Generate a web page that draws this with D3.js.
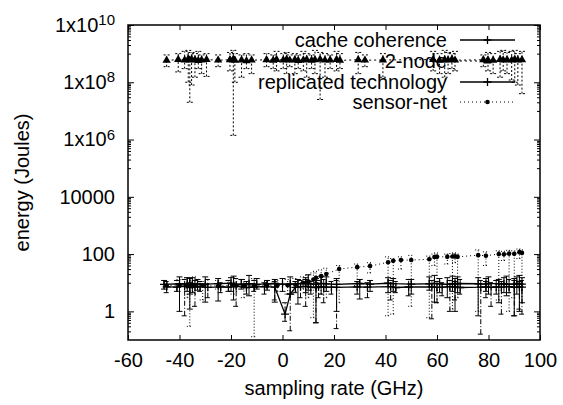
<!DOCTYPE html>
<html>
<head>
<meta charset="utf-8">
<script src="https://cdn.jsdelivr.net/npm/d3@7"></script>
<style>
body { margin: 0; background: #fff; }
text { font-family: "Liberation Sans", Arial, Helvetica, sans-serif; }
</style>
</head>
<body>
<script>
// tick labels
var xTicks = [-60, -40, -20, 0, 20, 40, 60, 80, 100];
var yTicks = [1, 100, 1e4, 1e6, 1e8, 1e10];
var yTickLabels = ["1", "100", "10000", "1x10^6", "1x10^8", "1x10^10"];
var seriesNames = ["cache coherence", "2-node", "replicated technology", "sensor-net"];

// cache coherence
var cacheX  = [-46,-40,-37,-36,-35,-33,-30,-25,-20,-19,-16,-13,-10,-6,-3,0,3,6,9,10,13,15,17,21,30,34,41,43,50,57,59,61,64,66,67,68,76,79,80,84,86,87,90,91,92,93];
var cacheY  = [8.8,9.2,9.0,9.5,8.6,9.1,8.9,9.3,9.6,8.7,9.0,9.2,8.8,9.1,9.4,8.9,9.0,9.3,9.6,9.2,8.9,9.5,9.1,8.8,9.4,9.0,9.6,9.3,8.9,9.2,9.5,9.1,8.8,9.3,9.0,9.4,9.2,8.9,9.5,9.1,9.3,8.8,9.0,9.4,9.2,9.0];
var cacheHi = [12,16,15,14,15,13,16,14,15,17,13,18,14,12,13,14,16,13,15,19,14,17,16,14,13,12,15,14,13,16,18,14,15,17,14,16,15,14,16,13,15,17,14,16,18,15];
var cacheLo = [6.0,1.0,5.0,1.2,4.5,5.5,2.1,2.3,5.0,2.5,6.0,3.5,6.0,5.5,2.1,5.0,4.0,1.8,4.5,5.5,0.4,4.0,5.0,1.0,2.7,5.0,4.5,5.0,4.0,5.5,2.1,4.5,3.0,5.0,1.0,4.5,0.7,5.0,4.0,2.0,4.5,3.5,0.7,4.0,1.0,2.0];

// 2-node
var twoX  = [-45,-40.5,-38,-36.6,-36,-35.3,-34,-32.7,-31.4,-29.5,-25,-20.4,-19.1,-18.5,-15.9,-14,-12,-6.2,-3.6,-2.3,0.3,1.6,2.8,4.8,6.1,8.1,9.4,11.3,12.6,14.6,16.5,18.5,21,22.3,29.4,32,39,58.5,61,63,64.3,65.8,67,78,79.8,81.8,84.5,85.7,87.2,89,90.2,91.4,93];
var twoY  = [5.8e8,6.2e8,6.0e8,6.5e8,5.9e8,6.3e8,6.1e8,5.7e8,6.0e8,6.2e8,5.9e8,6.1e8,6.4e8,5.8e8,6.0e8,5.6e8,5.9e8,6.1e8,5.8e8,6.2e8,6.0e8,6.3e8,5.9e8,6.1e8,5.7e8,6.0e8,6.2e8,5.8e8,6.1e8,6.3e8,5.9e8,6.0e8,6.2e8,5.8e8,6.1e8,5.9e8,6.0e8,6.2e8,5.8e8,6.1e8,6.0e8,6.3e8,5.9e8,6.1e8,6.0e8,5.8e8,6.2e8,6.0e8,6.1e8,5.9e8,6.3e8,6.0e8,6.1e8];
var twoHi = [9e8,1.0e9,1.2e9,1.3e9,9e8,1.1e9,1.0e9,1.2e9,9e8,1.0e9,9e8,1.1e9,1.3e9,1.0e9,9e8,1.0e9,9e8,1.0e9,9e8,1.2e9,1.0e9,1.1e9,9e8,1.0e9,9e8,1.2e9,1.0e9,9e8,1.3e9,1.1e9,1.0e9,9e8,1.2e9,1.0e9,1.1e9,9e8,1.0e9,1.2e9,1.0e9,1.3e9,1.1e9,1.0e9,1.2e9,9e8,1.1e9,1.0e9,1.2e9,1.3e9,1.1e9,1.2e9,1.3e9,1.0e9,1.2e9];
var twoLo = [3.5e8,2.3e8,3.0e8,1.0e8,2e7,8e7,1.5e8,3.0e8,2.0e8,1.6e8,3.5e8,2.5e8,1.4e6,1.0e8,1.5e8,3.0e8,2.0e8,3.5e8,3.0e8,2.5e8,3.0e8,2.0e8,3.5e8,2.0e8,3.0e8,2.5e8,1.5e8,3.0e8,2.0e8,2.5e7,1.5e8,3.0e8,2.5e8,3.0e8,2.0e8,3.5e8,1.5e8,2.5e8,2.0e8,1.5e8,2.0e8,3.0e8,2.5e8,3.5e8,2.5e8,2.0e8,1.5e8,2.5e8,2.0e8,1.2e8,1.0e8,8e7,4e7];

// replicated technology
var replX  = [-45,-41,-38,-36,-34,-32,-29,-24,-21,-18,-14,-11,-7,-3,1,3,5,7,9,11,13,14,16,19,21,29,33,42,44,49,58,60,62,65,67,69,77,79,81,83,85,88,90,92,93];
var replY  = [7.2,7.0,7.4,6.8,7.1,7.3,6.9,7.2,7.0,7.5,6.8,7.1,7.3,7.0,0.8,4.0,6.9,7.2,7.4,7.0,6.8,7.3,7.1,7.0,6.9,7.2,7.0,7.3,6.8,7.1,7.2,6.9,7.0,7.3,7.1,6.8,7.0,7.2,6.9,7.1,7.0,7.3,6.9,7.1,7.0];
var replHi = [11,12,13,10,12,11,13,10,12,14,11,12,10,11,2.0,9,11,12,13,11,10,12,13,11,12,11,10,12,11,13,12,11,10,12,11,13,12,11,10,12,11,13,12,11,12];
var replLo = [4.5,5.0,0.7,4.0,1.5,5.0,3.0,4.5,5.0,1.5,4.0,5.0,4.0,2.5,0.45,0.21,4.5,3.0,1.5,4.0,0.4,3.0,2.0,4.0,0.25,4.0,3.0,2.5,4.5,3.5,0.55,2.0,3.5,1.0,2.5,4.0,0.16,3.0,1.5,4.0,0.8,4.5,0.7,1.2,0.8];

// sensor-net
var sensX  = [-45,-40,-37,-36,-35,-34,-31,-25,-19,-18,-15,-11,-6,-2,2,5,8,10,12,13,15,17,22,29,34,41,43,46,50,57,59,60,64,66,67,68,76,79,84,86,88,90,92,93];
var sensY  = [8.0,8.2,7.8,8.1,7.9,8.3,8.0,7.7,8.2,8.0,7.9,8.1,7.8,8.0,8.2,8.5,10,11,13,15,17,20,30,35,38,52,58,62,62,66,79,80,80,82,83,80,92,88,100,98,104,102,117,110];
var sensHi = [10,13,15,14,12,16,11,12,15,11,13,14,11,12,13,14,16,18,22,25,28,32,40,45,50,80,70,80,90,85,100,110,100,105,110,100,140,120,130,125,135,130,150,140];
var sensLo = [6,5,3,0.3,5,4,2.5,6,4,5,3,0.13,6,5,4,5,6,3,0.6,8,4,3,2.0,8,22,0.7,0.8,30,1.5,0.6,40,2.0,45,1.2,50,3.0,1.0,40,2.5,60,1.0,3,70,2];

var W = 563, H = 405;
var pLeft = 128, pRight = 540, pTop = 25, pBottom = 340;

var svg = d3.select("body").append("svg")
    .attr("width", W)
    .attr("height", H);

var x = d3.scaleLinear().domain([-60, 100]).range([pLeft, pRight]);
var y = d3.scaleLog().domain([0.1, 1e10]).range([pBottom, pTop]);

// minor ticks between the decade pairs (gnuplot style)
var yMinor = [];
[-2, 0, 2, 4, 6, 8].forEach(function(e) {
  for (var m = 1; m <= 9; m++) {
    var v = Math.pow(10, e) * 10 * m;
    if (v > 0.1 && v < 1e10 && yTicks.indexOf(v) < 0) yMinor.push(v);
  }
});

// axes
svg.append("g")
    .attr("transform", "translate(0," + pBottom + ")")
    .call(d3.axisBottom(x).tickValues(xTicks).tickSize(-5).tickPadding(13)
      .tickFormat(function(d) { return String(d); }));
svg.append("g")
    .attr("transform", "translate(0," + pTop + ")")
    .call(d3.axisTop(x).tickValues(xTicks).tickSize(-5).tickFormat(""));

var gy = svg.append("g")
    .attr("transform", "translate(" + pLeft + ",0)")
    .call(d3.axisLeft(y).tickValues(yTicks).tickSize(-6).tickPadding(13).tickFormat(function(d) { return ""; }));
svg.append("g")
    .attr("transform", "translate(" + pLeft + ",0)")
    .call(d3.axisLeft(y).tickValues(yMinor).tickSize(-3).tickFormat(""));
svg.append("g")
    .attr("transform", "translate(" + pRight + ",0)")
    .call(d3.axisRight(y).tickValues(yTicks).tickSize(-6).tickFormat(""));
svg.append("g")
    .attr("transform", "translate(" + pRight + ",0)")
    .call(d3.axisRight(y).tickValues(yMinor).tickSize(-3).tickFormat(""));

svg.selectAll(".domain").remove();
svg.selectAll(".tick line").attr("stroke", "#000");
svg.selectAll(".tick text").attr("font-size", 20).attr("fill", "#000")
    .style("font-family", "'Liberation Sans', Arial, sans-serif");

// y labels with superscripts
gy.selectAll(".tick text").each(function(d) {
  var t = d3.select(this);
  var parts = yTickLabels[yTicks.indexOf(d)].split("^");
  t.text(null);
  t.append("tspan").text(parts[0]);
  if (parts[1]) {
    t.append("tspan").attr("dy", "-0.45em").attr("font-size", 15).text(parts[1]);
  }
});

// frame
svg.append("rect")
    .attr("x", pLeft).attr("y", pTop)
    .attr("width", pRight - pLeft).attr("height", pBottom - pTop)
    .attr("fill", "none").attr("stroke", "#000").attr("stroke-width", 1.5);

// axis titles
svg.append("text")
    .attr("x", (pLeft + pRight) / 2).attr("y", 395)
    .attr("text-anchor", "middle").attr("font-size", 20)
    .text("sampling rate (GHz)");
svg.append("text")
    .attr("transform", "translate(29," + ((pTop + pBottom) / 2) + ") rotate(-90)")
    .attr("text-anchor", "middle").attr("font-size", 20)
    .text("energy (Joules)");

var series = [
  {name: seriesNames[0], xs: cacheX, ys: cacheY, hi: cacheHi, lo: cacheLo, dash: null, barDash: null, lw: 1.3, mark: "plus"},
  {name: seriesNames[1], xs: twoX, ys: twoY, hi: twoHi, lo: twoLo, dash: "2,3", barDash: "2,2", lw: 1, mark: "tri"},
  {name: seriesNames[2], xs: replX, ys: replY, hi: replHi, lo: replLo, dash: null, barDash: "5,2,1,2", lw: 1.3, mark: "plus"},
  {name: seriesNames[3], xs: sensX, ys: sensY, hi: sensHi, lo: sensLo, dash: "1,3", barDash: "1,2", lw: 1, mark: "dot"}
];

var legendX = 447, sampleX0 = 460, sampleX1 = 515;
var rowY = [40, 61, 82, 102];

// legend text first so the data overlays it
series.forEach(function(s, i) {
  svg.append("text")
      .attr("x", legendX).attr("y", rowY[i] + 7)
      .attr("text-anchor", "end").attr("font-size", 20)
      .text(s.name);
});

function drawMark(g, mark, cx, cy) {
  if (mark == "plus") {
    g.append("path")
        .attr("d", "M" + (cx - 4) + "," + cy + "H" + (cx + 4) + "M" + cx + "," + (cy - 4) + "V" + (cy + 4))
        .attr("stroke", "#000").attr("stroke-width", 1.3);
  } else if (mark == "tri") {
    g.append("path")
        .attr("d", d3.symbol().type(d3.symbolTriangle).size(30)())
        .attr("transform", "translate(" + cx + "," + cy + ")")
        .attr("fill", "#000");
  } else {
    g.append("circle").attr("cx", cx).attr("cy", cy).attr("r", 2.3).attr("fill", "#000");
  }
}

series.forEach(function(s, i) {
  var g = svg.append("g");
  var pts = s.xs.map(function(v, j) { return {x: v, y: s.ys[j], hi: s.hi[j], lo: s.lo[j]}; });

  // error bars
  pts.forEach(function(d) {
    var px = x(d.x), y0 = y(d.lo), y1 = y(d.hi);
    g.append("path")
        .attr("d", "M" + px + "," + y0 + "V" + y1 +
                   "M" + (px - 3) + "," + y0 + "H" + (px + 3) +
                   "M" + (px - 3) + "," + y1 + "H" + (px + 3))
        .attr("fill", "none").attr("stroke", "#000").attr("stroke-width", 1)
        .attr("stroke-dasharray", s.barDash);
  });

  // connecting line
  var line = d3.line()
      .x(function(d) { return x(d.x); })
      .y(function(d) { return y(d.y); });
  g.append("path")
      .datum(pts)
      .attr("d", line)
      .attr("fill", "none").attr("stroke", "#000").attr("stroke-width", s.lw)
      .attr("stroke-dasharray", s.dash);

  pts.forEach(function(d) { drawMark(g, s.mark, x(d.x), y(d.y)); });

  // legend sample
  g.append("line")
      .attr("x1", sampleX0).attr("x2", sampleX1)
      .attr("y1", rowY[i]).attr("y2", rowY[i])
      .attr("stroke", "#000").attr("stroke-width", s.lw)
      .attr("stroke-dasharray", s.dash);
  drawMark(g, s.mark, (sampleX0 + sampleX1) / 2, rowY[i]);
});
</script>
</body>
</html>
